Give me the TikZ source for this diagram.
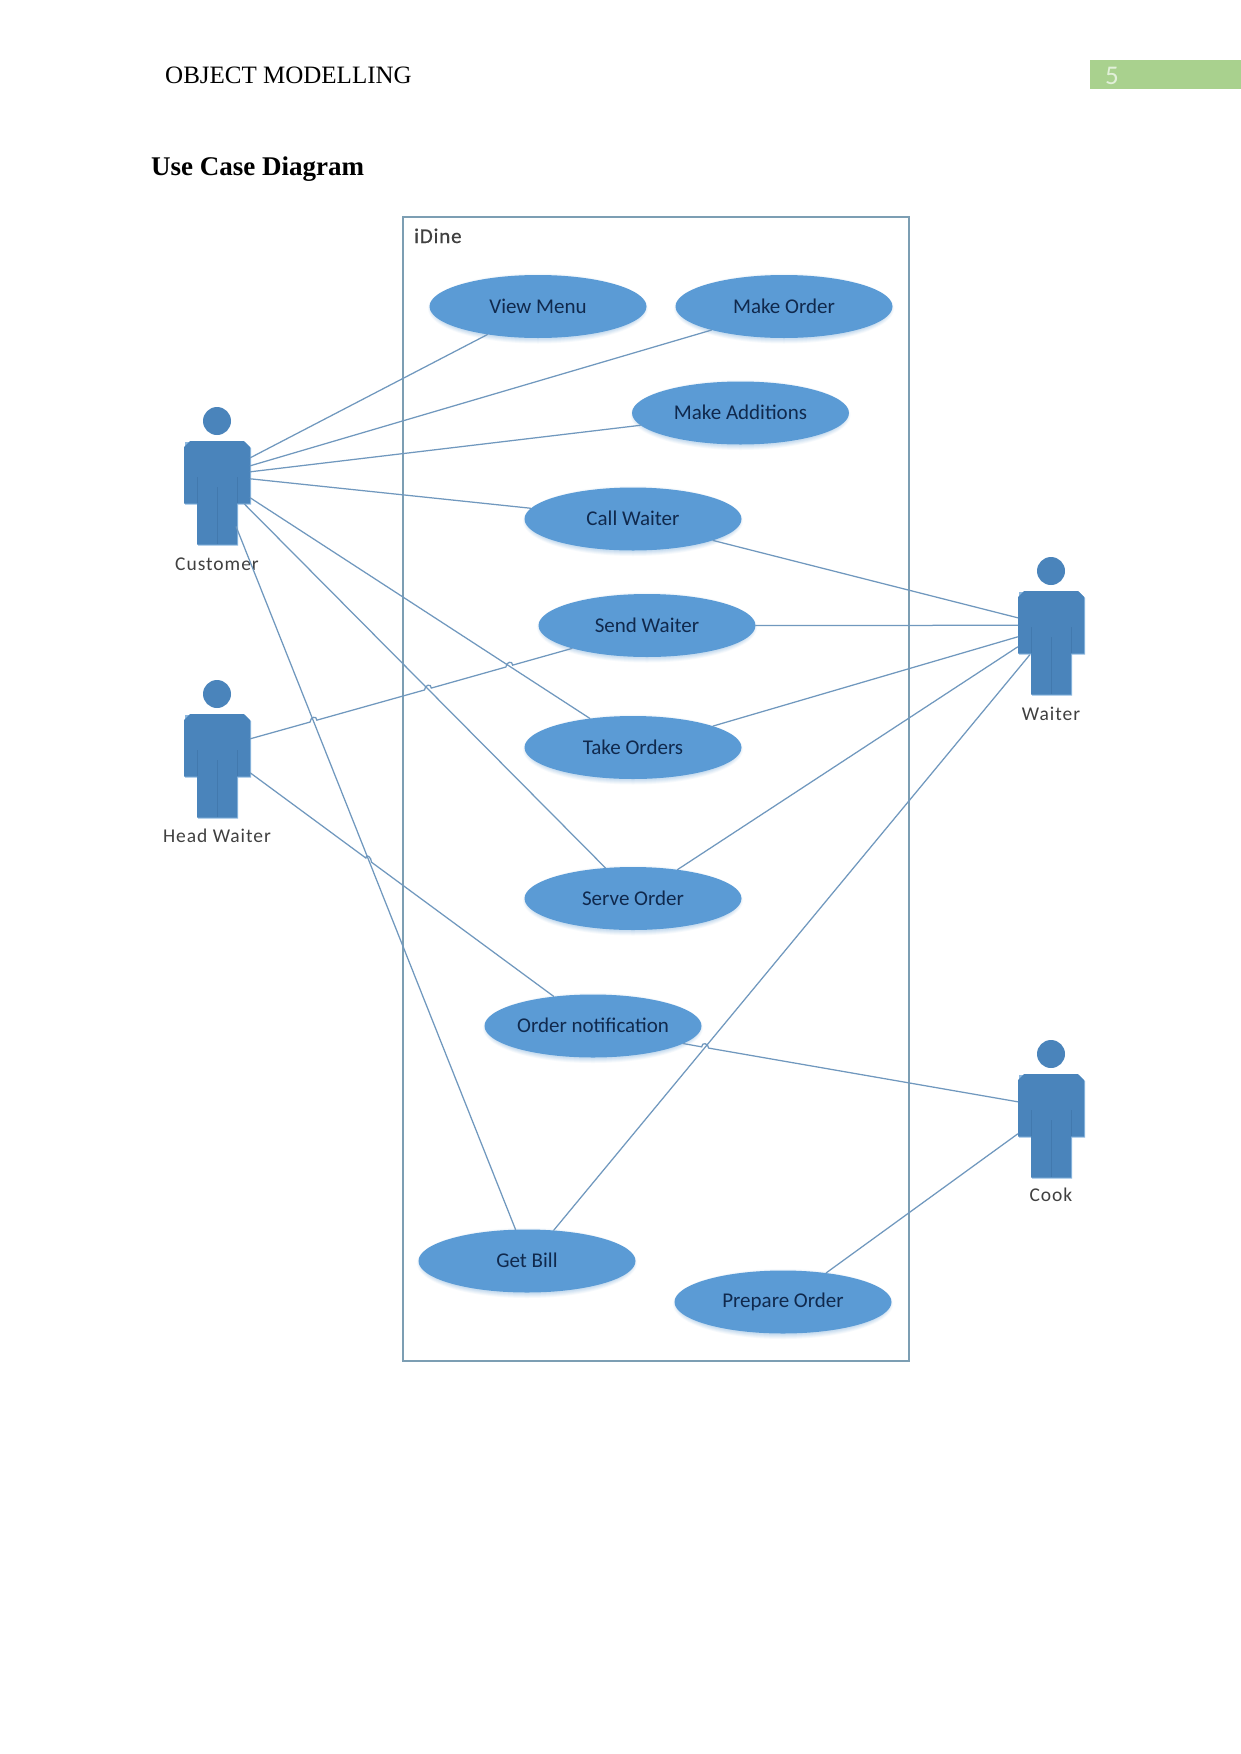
\documentclass[tikz,border=0pt]{standalone}
\usepackage{fontspec}
\setmainfont{Liberation Serif}
\newfontfamily\uifont{Carlito}
\newfontfamily\uispaced[LetterSpace=5]{Carlito}
\newfontfamily\uititle[LetterSpace=4,FakeBold=0.5]{Carlito}
\usetikzlibrary{shapes.geometric,calc}
\definecolor{casefill}{HTML}{5B9BD5}
\definecolor{casetext}{HTML}{10294D}
\definecolor{actorfill}{HTML}{4A84BB}
\definecolor{actorline}{HTML}{4279AE}
\definecolor{actoredge}{HTML}{8DB8DF}
\definecolor{wire}{HTML}{7098BE}
\definecolor{framecol}{HTML}{7C9EB3}
\definecolor{labelcol}{HTML}{404040}
\definecolor{tabgreen}{HTML}{A9D18E}
\definecolor{tabtext}{HTML}{E2F0D9}
\tikzset{
  x=1pt,y=-1pt,
  usecase/.style={ellipse,fill=casefill,inner sep=0pt,minimum width=217pt,minimum height=63pt,
    text=casetext,font=\uifont\fontsize{21}{24}\selectfont},
  actorbox/.style={rectangle,inner sep=0pt,minimum width=66pt,minimum height=104pt},
  actorlabel/.style={inner sep=0pt,text=labelcol,font=\uispaced\fontsize{19.5}{22}\selectfont},
  conn/.style={draw=wire,line width=1.25pt,line cap=round},
  plain/.style={inner sep=0pt,anchor=base west},
}
% one use case with a soft shadow below it
\newcommand{\usecasenode}[4]{%
  \foreach \grow/\op in {4/.05,3/.06,2/.07,1/.08,0/.09}{
    \fill[casefill,opacity=\op] (#2,#3+2) ellipse ({106+\grow} and {31+\grow});
  }
  \node[usecase] (#1) at (#2,#3) {\raisebox{1pt}{#4}};
}
% stick figure: x centre, shoulder y, caption y
\newcommand{\actorfig}[5]{%
  \node[actorbox] (#1) at (#2,#3+52) {};
  \node[circle,fill=actorfill,inner sep=0pt,minimum size=28pt] (#1head) at (#2,#3-20) {};
  \begin{scope}[shift={(#2,#3)}]
    \fill[actoredge] (-32,1) -- (28,1) -- (34,7) -- (34,63.5) -- (21,63.5) -- (21,104.5) -- (-19,104.5) -- (-19,63.5) -- (-32,63.5) -- cycle;
    \fill[actorfill] (-27,0) -- (27,0) -- (33,6) -- (33,62.5) -- (20,62.5) -- (20,103.5) -- (-20,103.5) -- (-20,62.5) -- (-33,62.5) -- (-33,6) -- cycle;
    \draw[actorline,line width=.8pt] (-20,36) -- (-20,62) (20,36) -- (20,62) (0,46) -- (0,103);
  \end{scope}
  \node[actorlabel] (#1cap) at (#2,#4) {#5};
}
% small half-round hop of a connector over a crossing line
\newcommand{\hop}[3]{-- ($(#1)!3.5pt!(#2)$) .. controls ($(#1)!3.5pt!(#2)+(0,-5)$) and ($(#1)!3.5pt!(#3)+(0,-5)$) .. ($(#1)!3.5pt!(#3)$)}
\begin{document}
\begin{tikzpicture}
\useasboundingbox (0,0) rectangle (1241,1754);
\fill[white] (0,0) rectangle (1241,1754);

% page header
\node[plain,font=\fontsize{25}{30}\selectfont] (head) at (165,83) {OBJECT MODELLING};
\node[plain,font=\bfseries\fontsize{27}{32}\selectfont] (title) at (151,175) {Use Case Diagram};
\fill[tabgreen] (1090,60) rectangle (1241,89);
\node[plain,text=tabtext,font=\uifont\fontsize{27}{30}\selectfont] (pageno) at (1105,84) {5};

% system boundary
\node[draw=framecol,line width=1.1pt,inner sep=0pt,minimum width=506pt,minimum height=1144pt] (sys) at (656,789) {};
\node[plain,text=labelcol,font=\uititle\fontsize{21}{24}\selectfont] (sysname) at (414,243) {iDine};

% actors
\actorfig{cu}{217}{441}{564}{Customer}
\actorfig{hw}{217}{714}{836}{Head Waiter}
\actorfig{wa}{1051}{591}{714}{Waiter}
\actorfig{co}{1051}{1074}{1195}{Cook}

% use cases
\usecasenode{vm}{538}{306.5}{View Menu}
\usecasenode{mo}{784}{306.5}{Make Order}
\usecasenode{ma}{740.5}{413}{Make Additions}
\usecasenode{cw}{633}{519}{Call Waiter}
\usecasenode{sw}{647}{625.5}{Send Waiter}
\usecasenode{to}{633}{747.5}{Take Orders}
\usecasenode{so}{633}{898.5}{Serve Order}
\usecasenode{on}{593}{1026}{Order notification}
\usecasenode{gb}{527}{1261}{Get Bill}
\usecasenode{po}{783}{1302}{Prepare Order}

% connector ends on the actors
\coordinate (cuA) at ([yshift=-17pt]cu.north east);
\coordinate (cuB) at ([yshift=-25pt]cu.north east);
\coordinate (cuC) at ([yshift=-31pt]cu.north east);
\coordinate (cuD) at ([yshift=-38pt]cu.north east);
\coordinate (cuE) at ([yshift=-57pt]cu.north east);
\coordinate (cuF) at ([xshift=-6pt,yshift=-63pt]cu.north east);
\coordinate (cuG) at ([xshift=-14pt,yshift=-86pt]cu.north east);
\coordinate (hwA) at ([yshift=-25pt]hw.north east);
\coordinate (hwB) at ([yshift=-59pt]hw.north east);
\coordinate (waA) at ([yshift=-27pt]wa.north west);
\coordinate (waB) at ([yshift=-34.5pt]wa.north west);
\coordinate (waC) at ([yshift=-46pt]wa.north west);
\coordinate (waD) at ([yshift=-56pt]wa.north west);
\coordinate (waE) at ([xshift=12pt,yshift=-64pt]wa.north west);
\coordinate (coA) at ([yshift=-28pt]co.north west);
\coordinate (coB) at ([yshift=-60pt]co.north west);

% connector ends on the use cases
\coordinate (toL) at (to.146.2);
\coordinate (soL) at (so.132.6);
\coordinate (swL) at (sw.197.2);
\coordinate (gbL) at (gb.110.6);
\coordinate (gbR) at (gb.49.8);
\coordinate (onL) at (on.143);
\coordinate (onR) at (on.349.5);

% crossings where a connector hops over another
\coordinate (xa) at (intersection of hwA--swL and cuG--gbL);
\coordinate (xb) at (intersection of hwA--swL and cuF--soL);
\coordinate (xc) at (intersection of hwA--swL and cuE--toL);
\coordinate (xd) at (intersection of hwB--onL and cuG--gbL);
\coordinate (xe) at (intersection of onR--coA and waE--gbR);

% customer
\draw[conn] (cuA) -- (vm.209.5);
\draw[conn] (cuB) -- (mo.198);
\draw[conn] (cuC) -- (ma.187.2);
\draw[conn] (cuD) -- (cw.174.6);
\draw[conn] (cuE) -- (toL);
\draw[conn] (cuF) -- (soL);
\draw[conn] (cuG) -- (gbL);
% head waiter
\draw[conn] (hwA) \hop{xa}{hwA}{swL} \hop{xb}{hwA}{swL} \hop{xc}{hwA}{swL} -- (swL);
\draw[conn] (hwB) \hop{xd}{hwB}{onL} -- (onL);
% waiter
\draw[conn] (waA) -- (cw.345.8);
\draw[conn] (waB) -- (sw.east);
\draw[conn] (waC) -- (to.15.7);
\draw[conn] (waD) -- (so.33.5);
\draw[conn] (waE) -- (gbR);
% cook
\draw[conn] (onR) \hop{xe}{onR}{coA} -- (coA);
\draw[conn] (coB) -- (po.34.9);
\end{tikzpicture}
\end{document}
